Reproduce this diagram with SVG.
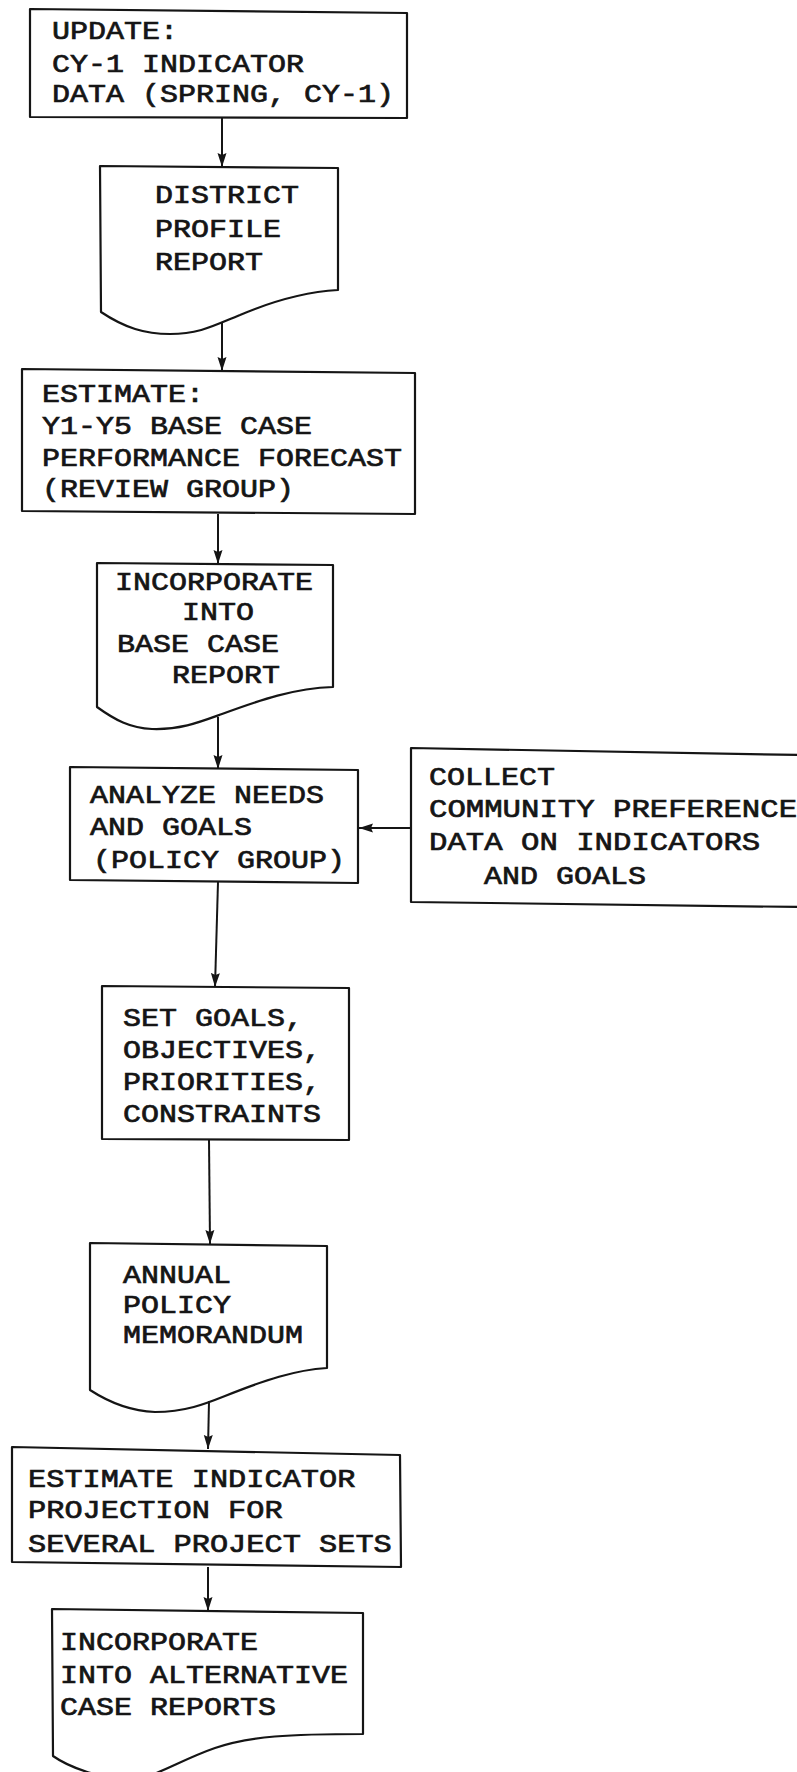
<svg xmlns="http://www.w3.org/2000/svg" width="797" height="1772" viewBox="0 0 797 1772">
  <defs>
    <style>
      .shape { fill: none; stroke: #151515; stroke-width: 2.2; stroke-linejoin: round; }
      .link { fill: none; stroke: #151515; stroke-width: 2; }
      /* typewriter-style labels: 26px mono, widened to an 18px pitch */
      .lbl { font-family: "Liberation Mono", "DejaVu Sans Mono", monospace; font-size: 26px; fill: #151515; stroke: #151515; stroke-width: 0.7px; }
    </style>
    <marker id="arrow" markerUnits="userSpaceOnUse" markerWidth="14" markerHeight="16" viewBox="0 0 14 16" refX="14" refY="8" orient="auto">
      <path d="M0,3.5 L14,8 L0,12.5 L2,8 Z" fill="#151515"/>
    </marker>
  </defs>
  <rect width="797" height="1772" fill="#ffffff"/>

  <!-- process: update indicator data -->
  <g id="update-data">
    <path class="shape" d="M30,9 L407,13 L407,118 L30,117 Z"/>
    <text class="lbl" transform="translate(52 39) scale(1.154 1)">UPDATE:</text>
    <text class="lbl" transform="translate(52 72) scale(1.154 1)">CY-1 INDICATOR</text>
    <text class="lbl" transform="translate(52 102) scale(1.154 1)">DATA (SPRING, CY-1)</text>
  </g>

  <!-- document: district profile report -->
  <g id="district-profile">
    <path class="shape" d="M101,312 L100,166 L338,168 L338,290 C305,292 275,300 240,315 C215,325 200,334 170,334 C145,334 125,328 101,312 Z"/>
    <text class="lbl" transform="translate(155 203) scale(1.154 1)">DISTRICT</text>
    <text class="lbl" transform="translate(155 237) scale(1.154 1)">PROFILE</text>
    <text class="lbl" transform="translate(155 270) scale(1.154 1)">REPORT</text>
  </g>

  <!-- process: base case forecast -->
  <g id="base-case-forecast">
    <path class="shape" d="M22,369 L415,373 L415,514 L22,511 Z"/>
    <text class="lbl" transform="translate(42 402) scale(1.154 1)">ESTIMATE:</text>
    <text class="lbl" transform="translate(42 434) scale(1.154 1)">Y1-Y5 BASE CASE</text>
    <text class="lbl" transform="translate(42 466) scale(1.154 1)">PERFORMANCE FORECAST</text>
    <text class="lbl" transform="translate(42 497) scale(1.154 1)">(REVIEW GROUP)</text>
  </g>

  <!-- document: base case report -->
  <g id="base-case-report">
    <path class="shape" d="M97,707 L97,563 L333,565 L333,687 C295,688 260,700 222,714 C200,722 180,730 152,729 C130,728 115,720 97,707 Z"/>
    <text class="lbl" transform="translate(115 590) scale(1.154 1)">INCORPORATE</text>
    <text class="lbl" transform="translate(182 620) scale(1.154 1)">INTO</text>
    <text class="lbl" transform="translate(117 652) scale(1.154 1)">BASE CASE</text>
    <text class="lbl" transform="translate(172 683) scale(1.154 1)">REPORT</text>
  </g>

  <!-- process: analyze needs and goals -->
  <g id="analyze-needs">
    <path class="shape" d="M70,767 L358,770 L358,883 L70,880 Z"/>
    <text class="lbl" transform="translate(90 803) scale(1.154 1)">ANALYZE NEEDS</text>
    <text class="lbl" transform="translate(90 835) scale(1.154 1)">AND GOALS</text>
    <text class="lbl" transform="translate(93 868) scale(1.154 1)">(POLICY GROUP)</text>
  </g>

  <!-- input: community preference data (runs off the right edge) -->
  <g id="community-preference">
    <path class="shape" d="M800,755 L411,748 L411,902 L800,907"/>
    <text class="lbl" transform="translate(429 785) scale(1.154 1)">COLLECT</text>
    <text class="lbl" transform="translate(429 817) scale(1.18 1)">COMMUNITY PREFERENCE</text>
    <text class="lbl" transform="translate(429 850) scale(1.18 1)">DATA ON INDICATORS</text>
    <text class="lbl" transform="translate(484 884) scale(1.154 1)">AND GOALS</text>
  </g>

  <!-- process: set goals -->
  <g id="set-goals">
    <path class="shape" d="M102,986 L349,988 L349,1140 L102,1139 Z"/>
    <text class="lbl" transform="translate(123 1026) scale(1.154 1)">SET GOALS,</text>
    <text class="lbl" transform="translate(123 1058) scale(1.154 1)">OBJECTIVES,</text>
    <text class="lbl" transform="translate(123 1090) scale(1.154 1)">PRIORITIES,</text>
    <text class="lbl" transform="translate(123 1122) scale(1.154 1)">CONSTRAINTS</text>
  </g>

  <!-- document: annual policy memorandum -->
  <g id="policy-memo">
    <path class="shape" d="M90,1390 L90,1243 L327,1246 L327,1368 C295,1370 265,1380 225,1396 C205,1404 185,1412 155,1412 C130,1411 110,1403 90,1390 Z"/>
    <text class="lbl" transform="translate(123 1283) scale(1.154 1)">ANNUAL</text>
    <text class="lbl" transform="translate(123 1313) scale(1.154 1)">POLICY</text>
    <text class="lbl" transform="translate(123 1343) scale(1.154 1)">MEMORANDUM</text>
  </g>

  <!-- process: indicator projection -->
  <g id="indicator-projection">
    <path class="shape" d="M12,1447 L400,1455 L401,1567 L12,1562 Z"/>
    <text class="lbl" transform="translate(28 1487) scale(1.166 1)">ESTIMATE INDICATOR</text>
    <text class="lbl" transform="translate(28 1518) scale(1.166 1)">PROJECTION FOR</text>
    <text class="lbl" transform="translate(28 1552) scale(1.166 1)">SEVERAL PROJECT SETS</text>
  </g>

  <!-- document: alternative case reports -->
  <g id="alternative-reports">
    <path class="shape" d="M53,1756 L52,1609 L363,1613 L363,1734 C290,1734 250,1736 215,1748 C180,1760 150,1780 130,1780 C100,1778 70,1768 53,1756 Z"/>
    <text class="lbl" transform="translate(60 1650) scale(1.154 1)">INCORPORATE</text>
    <text class="lbl" transform="translate(60 1683) scale(1.154 1)">INTO ALTERNATIVE</text>
    <text class="lbl" transform="translate(60 1715) scale(1.154 1)">CASE REPORTS</text>
  </g>

  <!-- connectors -->
  <g id="connectors">
    <line class="link" x1="222" y1="118" x2="222" y2="167" marker-end="url(#arrow)"/>
    <line class="link" x1="222" y1="322" x2="222" y2="371" marker-end="url(#arrow)"/>
    <line class="link" x1="218" y1="514" x2="218" y2="564" marker-end="url(#arrow)"/>
    <line class="link" x1="218" y1="717" x2="218" y2="769" marker-end="url(#arrow)"/>
    <line class="link" x1="411" y1="828" x2="359" y2="828" marker-end="url(#arrow)"/>
    <line class="link" x1="218" y1="882" x2="215" y2="987" marker-end="url(#arrow)"/>
    <line class="link" x1="209" y1="1140" x2="210" y2="1244" marker-end="url(#arrow)"/>
    <line class="link" x1="209" y1="1401" x2="208" y2="1449" marker-end="url(#arrow)"/>
    <line class="link" x1="208" y1="1567" x2="208" y2="1611" marker-end="url(#arrow)"/>
  </g>
</svg>
